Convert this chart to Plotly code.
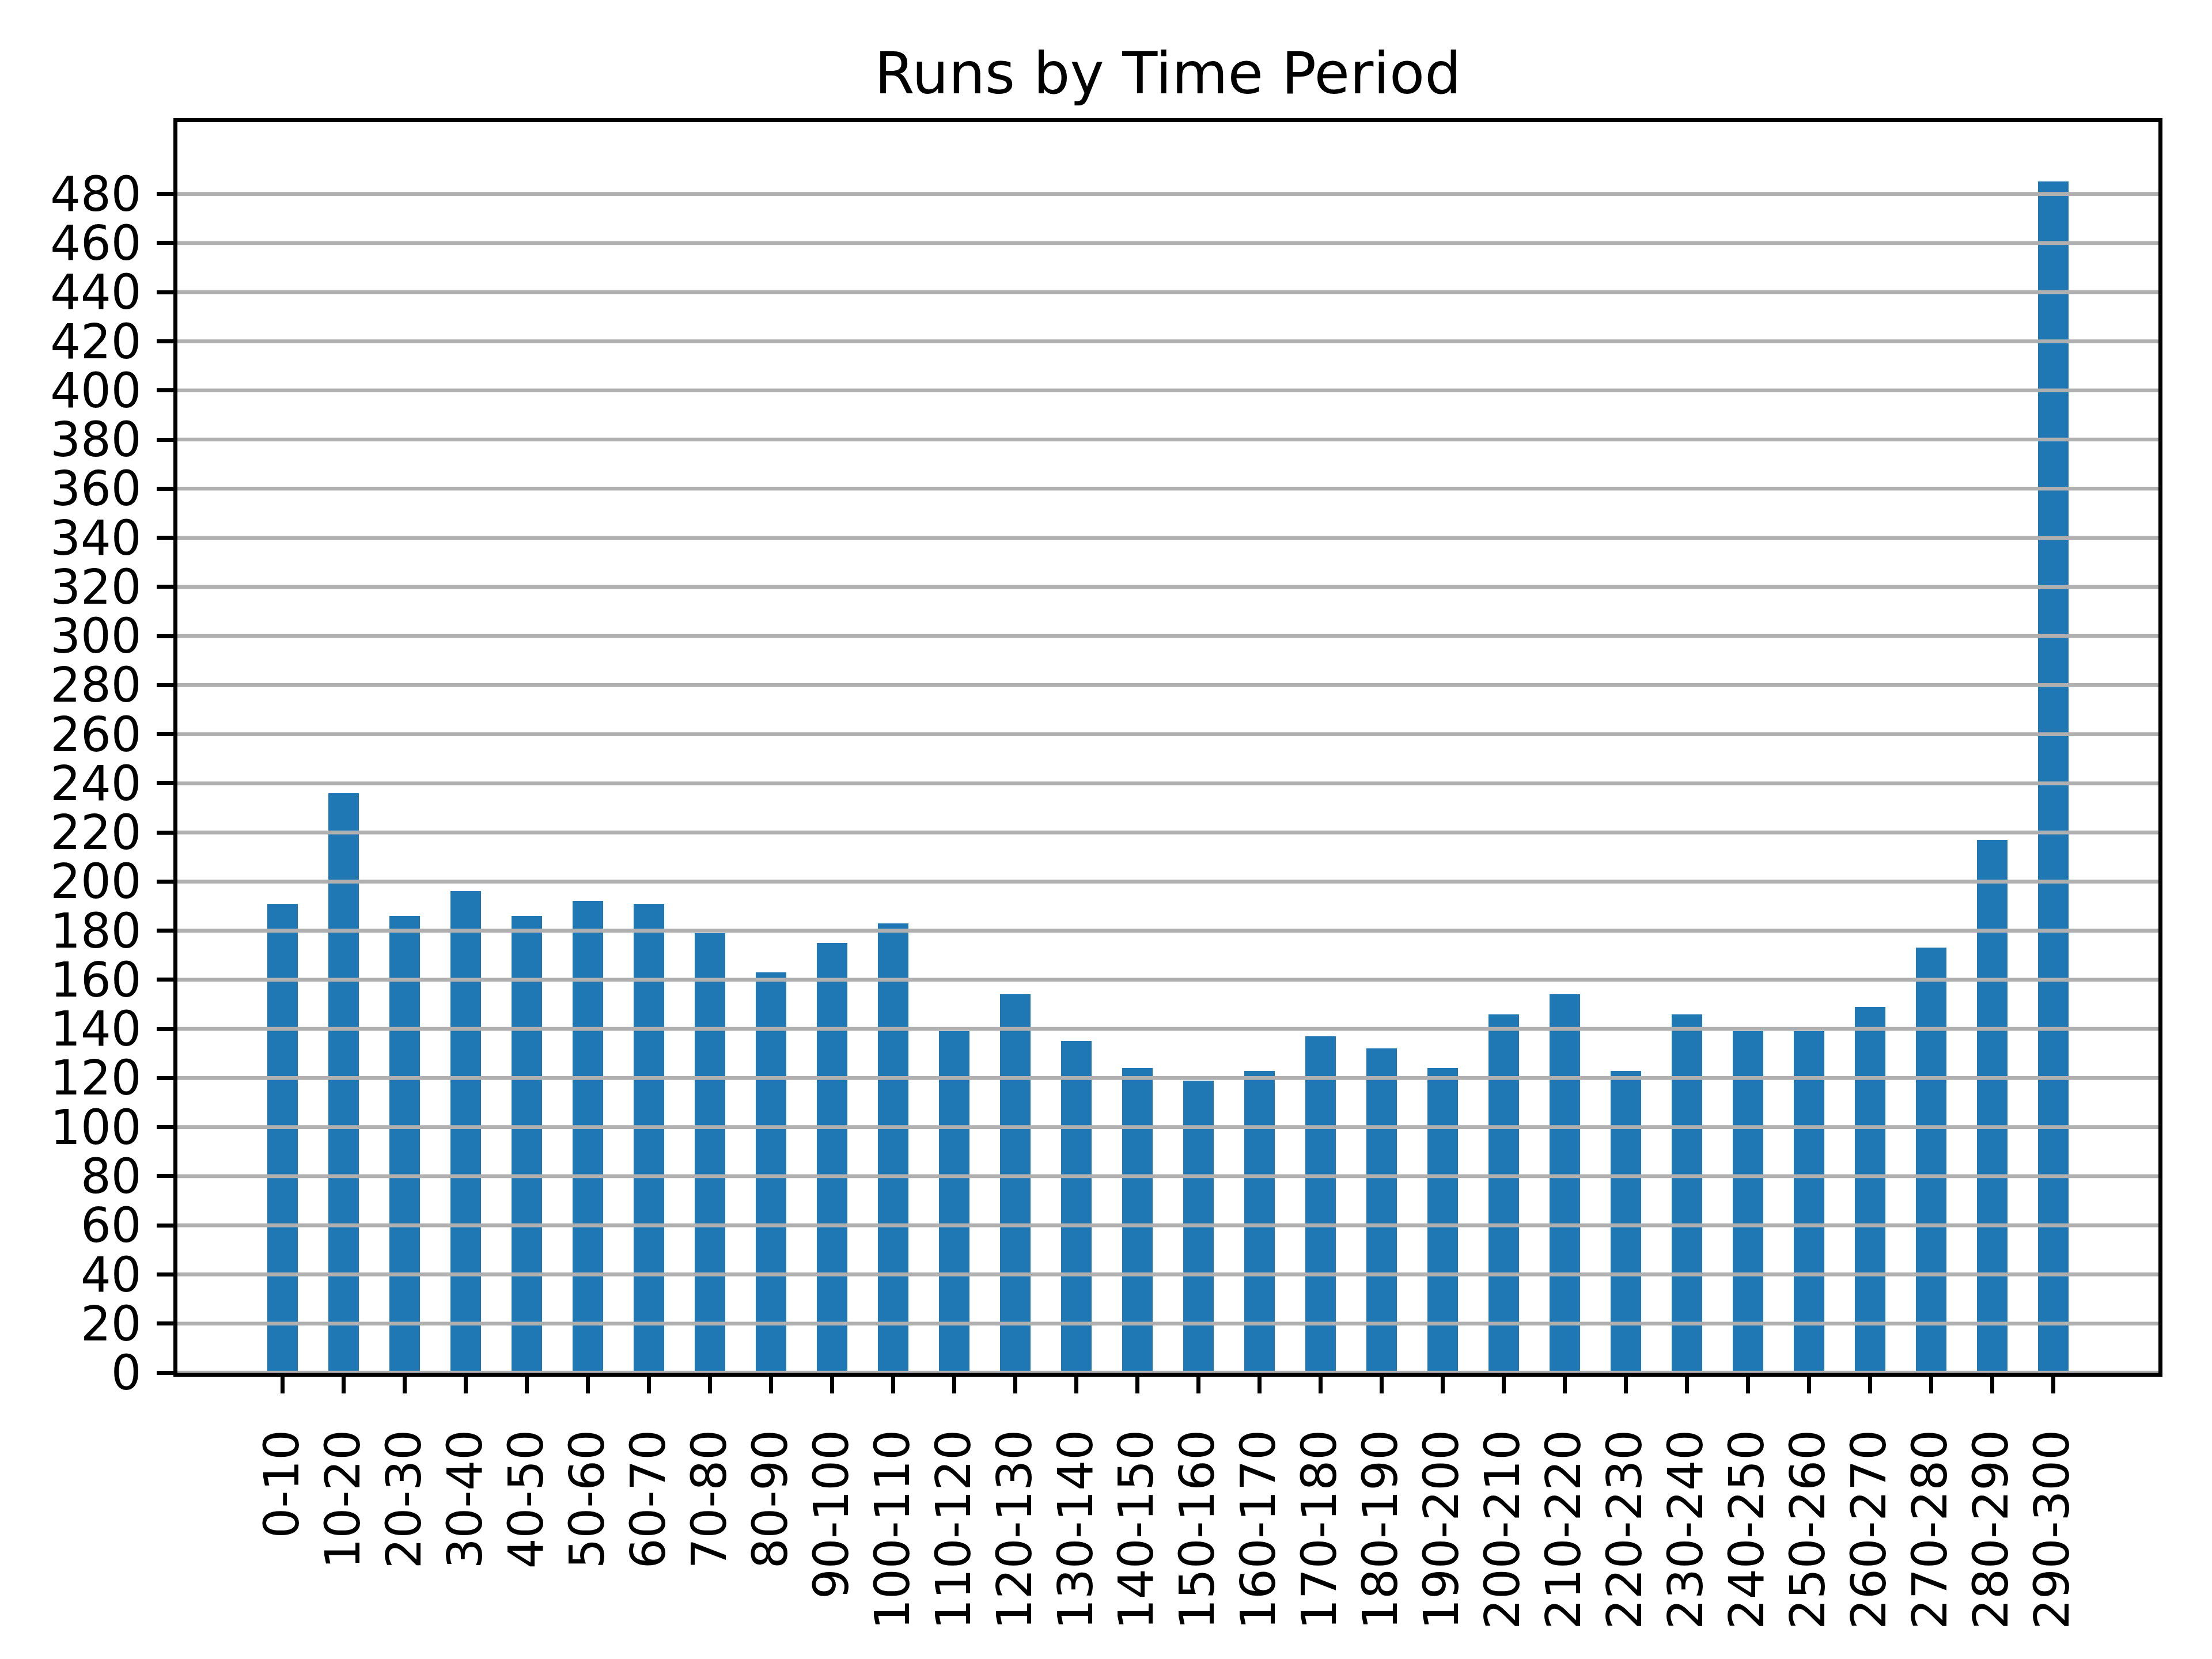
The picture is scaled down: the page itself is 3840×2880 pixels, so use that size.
import plotly.graph_objects as go

categories = ["0-10", "10-20", "20-30", "30-40", "40-50", "50-60", "60-70", "70-80",
              "80-90", "90-100", "100-110", "110-120", "120-130", "130-140", "140-150",
              "150-160", "160-170", "170-180", "180-190", "190-200", "200-210", "210-220",
              "220-230", "230-240", "240-250", "250-260", "260-270", "270-280", "280-290",
              "290-300"]
runs = [191, 236, 186, 196, 186, 192, 191, 179, 163, 175, 183, 139, 154, 135, 124,
        119, 123, 137, 132, 124, 146, 154, 123, 146, 139, 139, 149, 173, 217, 485]
y_ticks = list(range(0, 481, 20))

W, H = 3840, 2880
FONT = "DejaVu Sans"
LW = 6.7

fig = go.Figure()
fig.add_trace(go.Bar(x=categories, y=runs, width=0.5,
                     marker=dict(color="#1f77b4", line=dict(width=0))))

# gridlines drawn above bars (as in the reference)
for v in y_ticks:
    fig.add_shape(type="line", xref="paper", yref="y", x0=0, x1=1, y0=v, y1=v,
                  line=dict(color="#b0b0b0", width=LW), layer="above")

n = len(categories)
ymax = max(runs) * 1.05
fig.update_layout(
    width=W, height=H,
    margin=dict(l=308, r=93, t=212, b=497),
    paper_bgcolor="white", plot_bgcolor="white",
    showlegend=False,
    bargap=0,
    title=dict(text="Runs by Time Period", x=0.5, xanchor="center",
               xref="paper", yref="paper", y=1, yanchor="bottom",
               pad=dict(b=50),
               font=dict(family=FONT, size=100, color="black")),
    font=dict(family=FONT, size=83, color="black"),
)
fig.update_xaxes(
    type="category", range=[-0.25 - 0.05 * (n - 0.5), n - 0.75 + 0.05 * (n - 0.5)],
    showgrid=False, zeroline=False,
    showline=True, mirror=True, linecolor="black", linewidth=LW,
    ticks="outside", ticklen=29, tickwidth=LW, tickcolor="black",
    tickangle=-90, tickfont=dict(family=FONT, size=83, color="black"),
    ticklabelstandoff=30,
)
fig.update_yaxes(
    range=[0, ymax], tickmode="array", tickvals=y_ticks,
    ticktext=[str(v) for v in y_ticks],
    showgrid=False, zeroline=False,
    showline=True, mirror=True, linecolor="black", linewidth=LW,
    ticks="outside", ticklen=29, tickwidth=LW, tickcolor="black",
    tickfont=dict(family=FONT, size=83, color="black"),
    ticklabelstandoff=10,
)
fig.write_html("out.html")
